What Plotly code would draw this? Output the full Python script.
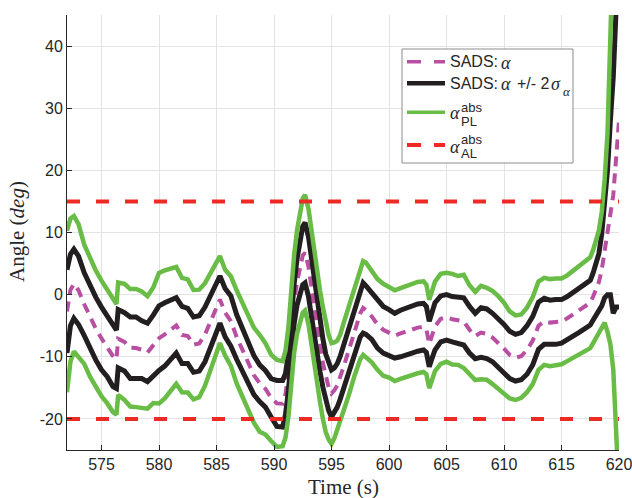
import plotly.graph_objects as go

# Time stamps (s) and SADS estimate of alpha with its uncertainty bounds (deg)
t = [572.0, 572.3, 572.6, 573.0, 573.5, 574.0, 574.5, 575.0, 575.5, 576.0,
     576.3, 576.45, 577.0, 577.5, 578.0, 578.5, 579.0, 579.5, 580.0, 580.5,
     581.0, 581.5, 582.0, 582.5, 583.0, 583.5, 584.0, 584.5, 585.0, 585.3,
     585.75, 586.25, 586.75, 587.25, 587.75, 588.25, 588.75, 589.25, 589.75, 590.25,
     590.75, 591.0, 591.25, 591.5, 591.75, 592.0, 592.25, 592.5, 592.7, 593.0,
     593.25, 593.5, 593.75, 594.0, 594.25, 594.5, 594.75, 595.0, 595.25, 595.5,
     595.75, 596.0, 596.5, 597.0, 597.5, 597.75, 598.0, 598.5, 599.0, 599.5,
     600.0, 600.5, 601.0, 601.5, 602.0, 602.5, 603.0, 603.25, 603.5, 603.75,
     604.0, 604.5, 605.0, 605.5, 606.0, 606.5, 607.0, 607.5, 608.0, 608.5,
     609.0, 609.5, 610.0, 610.5, 611.0, 611.5, 612.0, 612.5, 613.0, 613.5,
     614.0, 614.5, 615.0, 615.5, 616.0, 616.5, 617.0, 617.5, 617.75, 618.0,
     618.25, 618.5, 618.75, 619.0, 619.25, 619.5, 619.75, 620.0]

alpha = [-2.7, 0.75, 1.75, 0.7, -1.55, -3.7, -5.45, -7.05, -8.35, -9.9,
         -10.4, -7.1, -7.6, -8.55, -8.6, -8.85, -9.3, -8.15, -7.0, -6.4,
         -5.65, -4.95, -6.5, -6.65, -8.05, -7.85, -6.4, -4.25, -2.1, -0.8,
         -2.9, -4.25, -6.8, -8.8, -10.85, -12.95, -14.25, -15.15, -16.6, -17.5,
         -17.55, -16.0, -12.5, -6.5, -1.5, 2.0, 4.5, 6.3, 6.75, 4.5,
         1.3, -2.2, -5.5, -8.3, -11.0, -13.3, -14.9, -15.9, -15.4, -14.6,
         -13.4, -11.9, -9.0, -5.95, -3.0, -2.15, -2.5, -3.5, -4.8, -5.65,
         -6.05, -6.6, -6.25, -5.95, -5.55, -5.3, -5.15, -5.6, -7.95, -6.5,
         -5.1, -3.9, -3.65, -3.95, -4.15, -4.3, -5.65, -6.65, -6.1, -6.3,
         -6.9, -7.7, -8.7, -9.7, -10.15, -9.9, -8.9, -7.4, -5.0, -4.3,
         -4.5, -4.4, -4.3, -3.8, -3.2, -2.6, -2.0, -1.3, -0.3, 0.8,
         2.0, 4.0, 7.0, 10.0, 14.0, 16.0, 22.0, 28.0]

two_sigma = [6.7, 5.75, 5.55, 5.5, 5.05, 5.0, 5.05, 5.05, 4.85, 4.9,
             4.7, 4.7, 4.7, 4.95, 5.0, 4.65, 4.7, 4.85, 5.2, 5.1,
             4.85, 4.45, 4.6, 4.45, 4.45, 4.45, 4.4, 4.25, 3.9, 3.8,
             3.9, 4.05, 3.6, 3.5, 3.55, 3.15, 2.95, 2.95, 3.1, 3.7,
             3.75, 3.3, 3.0, 3.0, 3.2, 3.7, 4.2, 4.7, 4.85, 4.8,
             4.7, 4.55, 4.3, 4.1, 3.9, 3.75, 3.75, 3.8, 3.6, 3.5,
             3.45, 3.5, 3.5, 3.55, 3.8, 4.05, 3.9, 3.7, 3.8, 3.75,
             3.65, 3.6, 3.75, 3.85, 3.85, 3.8, 3.75, 3.7, 3.65, 3.7,
             3.8, 3.7, 3.65, 3.65, 3.65, 3.8, 3.75, 3.65, 4.0, 4.0,
             3.9, 3.9, 3.9, 3.8, 3.75, 3.8, 3.9, 3.9, 3.8, 3.7,
             3.6, 3.6, 3.5, 3.5, 3.5, 3.5, 3.5, 3.6, 3.8, 4.2,
             4.6, 5.8, 7.5, 10.0, 14.0, 19.0, 24.0, 30.0]

# Protection level half-width around alpha (deg)
pl = [13.0, 11.5, 10.9, 10.65, 9.6, 9.5, 9.35, 9.3, 9.15, 9.0,
      8.9, 9.05, 9.35, 9.45, 9.5, 9.35, 9.05, 9.3, 10.5, 10.3,
      9.9, 9.4, 9.2, 9.1, 8.8, 8.65, 8.25, 7.9, 7.4, 7.0,
      6.9, 7.2, 7.5, 7.6, 7.85, 7.65, 7.8, 7.35, 6.95, 7.0,
      6.85, 7.0, 7.2, 7.5, 7.9, 8.3, 8.8, 9.2, 9.3, 9.3,
      9.2, 9.2, 9.1, 9.0, 9.0, 8.8, 8.4, 8.1, 7.7, 7.2,
      6.9, 7.0, 7.2, 7.1, 7.4, 7.55, 7.65, 7.4, 7.3, 7.4,
      7.3, 7.3, 7.3, 7.3, 7.3, 7.35, 7.3, 7.2, 7.1, 7.1,
      7.2, 7.25, 7.15, 7.3, 7.15, 7.5, 7.15, 7.1, 7.5, 7.4,
      7.5, 7.45, 7.4, 7.0, 6.8, 6.7, 6.8, 7.0, 7.1, 7.0,
      7.0, 7.0, 6.9, 6.9, 7.0, 7.0, 7.1, 7.3, 7.5, 7.8,
      8.3, 9.3, 11.5, 16.0, 22.0, 28.0, 47.0, 60.0]

# Alert limits (deg)
al_upper = 15
al_lower = -20

x_ticks = [575, 580, 585, 590, 595, 600, 605, 610, 615, 620]
y_ticks = [-20, -10, 0, 10, 20, 30, 40]
y_tick_text = ["-20", "-10", "0", "10", "20", "30", "40"]

PINK = "#B94FA3"
BLACK = "#231F20"
GREEN = "#69BC45"
RED = "#EE2A24"
AXIS = "#262626"
GRID = "#E3E3E3"
SANS = "Liberation Sans, Arial, Helvetica, sans-serif"
SERIF = "Liberation Serif, Times New Roman, serif"

sig_hi = [a + s for a, s in zip(alpha, two_sigma)]
sig_lo = [a - s for a, s in zip(alpha, two_sigma)]
pl_hi = [a + p for a, p in zip(alpha, pl)]
pl_lo = [a - p for a, p in zip(alpha, pl)]
t_span = [t[0], t[-1]]

fig = go.Figure()
fig.add_trace(go.Scatter(x=t, y=alpha, mode="lines",
                         line=dict(color=PINK, width=4, dash="10px,7px")))
for yy in (sig_hi, sig_lo):
    fig.add_trace(go.Scatter(x=t, y=yy, mode="lines",
                             line=dict(color=BLACK, width=5)))
for yy in (pl_hi, pl_lo):
    fig.add_trace(go.Scatter(x=t, y=yy, mode="lines",
                             line=dict(color=GREEN, width=4.5)))
for lim in (al_upper, al_lower):
    fig.add_trace(go.Scatter(x=t_span, y=[lim, lim], mode="lines",
                             line=dict(color=RED, width=4, dash="13px,16px")))

axis_common = dict(
    ticks="inside", ticklen=5, tickwidth=1, tickcolor=AXIS,
    showline=True, linecolor=AXIS, linewidth=1, mirror=False,
    showgrid=True, gridcolor=GRID, gridwidth=1, zeroline=False,
    tickfont=dict(family=SANS, size=16, color=AXIS),
    automargin=False, ticklabeloverflow="allow",
)
fig.update_xaxes(range=[572, 620], tickvals=x_ticks, **axis_common)
fig.update_yaxes(range=[-25, 45], tickvals=y_ticks, ticktext=y_tick_text,
                 **axis_common)

fig.update_layout(
    width=632, height=498,
    margin=dict(l=67, r=13, t=15, b=48),
    paper_bgcolor="white", plot_bgcolor="white",
    showlegend=False,
)

# Legend drawn in pixel units of the plotting area
PX0, PX1, PY0, PY1 = 67, 619, 15, 450


def px(xp):
    return (xp - PX0) / (PX1 - PX0)


def py(yp):
    return (PY1 - yp) / (PY1 - PY0)


# Axis titles
fig.add_annotation(text="Time (s)", xref="paper", yref="paper",
                   x=px(343), y=py(487), xanchor="center", yanchor="middle",
                   showarrow=False, font=dict(family=SERIF, size=21, color=AXIS))
fig.add_annotation(text="Angle (<i>deg</i>)", xref="paper", yref="paper",
                   x=px(17), y=py(232), xanchor="center", yanchor="middle",
                   textangle=-90, showarrow=False,
                   font=dict(family=SERIF, size=21, color=AXIS))

fig.add_shape(type="rect", xref="paper", yref="paper",
              x0=px(402), x1=px(573), y0=py(163), y1=py(49),
              fillcolor="white", line=dict(color="#8C8C8C", width=1))

rows = [
    (61.7, PINK, 3.5, "14px,13px"),
    (83.3, BLACK, 4.5, "solid"),
    (112.3, GREEN, 3.5, "solid"),
    (145.0, RED, 4, "14px,13px"),
]
for yrow, col, w, dash in rows:
    fig.add_shape(type="line", xref="paper", yref="paper",
                  x0=px(407), x1=px(445), y0=py(yrow), y1=py(yrow),
                  line=dict(color=col, width=w, dash=dash))

leg_font = dict(family=SANS, size=16, color=AXIS)
greek_font = dict(family=SERIF, size=18, color=AXIS)


def leg_text(txt, xp, yp, font):
    fig.add_annotation(text=txt, xref="paper", yref="paper",
                       x=px(xp), y=py(yp), xanchor="left", yanchor="middle",
                       showarrow=False, font=font)


# Rows 1 and 2: SADS estimate and its 2-sigma bounds
leg_text("SADS:", 448, 62, leg_font)
leg_text("<i>α</i>", 499, 63, greek_font)
leg_text("SADS:", 448, 83, leg_font)
leg_text("<i>α</i>", 499, 84, greek_font)
leg_text("+/- 2", 515, 83, leg_font)
leg_text("<i>σ</i>", 549, 84, greek_font)
leg_text("<i>α</i>", 561, 91, dict(family=SERIF, size=13, color=AXIS))

# Rows 3 and 4: protection level and alert limit
for ya, ysup, ysub, lab in [(113, 107, 121.3, "PL"), (147, 139, 153.3, "AL")]:
    leg_text("<i>α</i>", 448, ya, greek_font)
    leg_text("abs", 459, ysup, dict(family=SANS, size=13, color=AXIS))
    leg_text(lab, 459, ysub, dict(family=SANS, size=13, color=AXIS))

fig.write_html("out.html")
